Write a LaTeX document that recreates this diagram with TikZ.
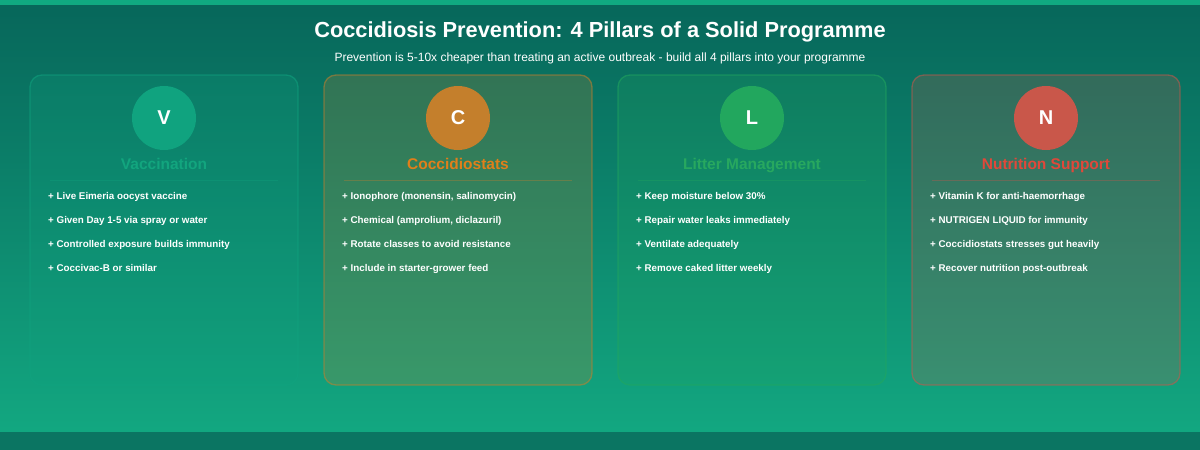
\documentclass[tikz,border=0pt]{standalone}
\usepackage{fontspec}
\setmainfont{Liberation Sans}
\begin{document}
\begin{tikzpicture}[x=1pt,y=-1pt,
  card/.style={rounded corners=12pt,line width=1.3pt},
  badge/.style={circle,minimum size=64pt,inner sep=0pt,text=white,font=\bfseries\fontsize{20}{20}\selectfont},
  ptitle/.style={font=\bfseries\fontsize{15.5}{15.5}\selectfont},
  item/.style={anchor=base west,text=white,font=\bfseries\fontsize{9.8}{9.8}\selectfont,inner sep=0pt}]
\definecolor{bgA}{HTML}{07665A}\definecolor{bgB}{HTML}{13AA82}
\definecolor{strip}{HTML}{10A981}\definecolor{band}{HTML}{0B7562}
\useasboundingbox (0,0) rectangle (1200,450);
\shade[shading=axis,shading angle=-70,top color=bgA,bottom color=bgB] (0,0) rectangle (1200,450);
\fill[strip] (0,0) rectangle (1200,5);
\fill[band] (0,432) rectangle (1200,450);
\node[text=white,font=\bfseries\fontsize{21.8}{21.8}\selectfont] (title) at (600,32) {Coccidiosis Prevention: 4 Pillars of a Solid Programme};
\node[text=white,font=\fontsize{12}{12}\selectfont] (sub) at (600,58) {Prevention is 5-10x cheaper than treating an active outbreak - build all 4 pillars into your programme};
\foreach \px/\bc/\tc/\lt/\nm/\ia/\ib/\ic/\id in {
 30/10A37F/12A57E/V/Vaccination/{Live Eimeria oocyst vaccine}/{Given Day 1-5 via spray or water}/{Controlled exposure builds immunity}/{Coccivac-B or similar},
 324/C47F2C/E07F1A/C/Coccidiostats/{Ionophore (monensin, salinomycin)}/{Chemical (amprolium, diclazuril)}/{Rotate classes to avoid resistance}/{Include in starter-grower feed},
 618/22A75E/27A85F/L/Litter Management/{Keep moisture below 30\%}/{Repair water leaks immediately}/{Ventilate adequately}/{Remove caked litter weekly},
 912/C9574A/E0483A/N/Nutrition Support/{Vitamin K for anti-haemorrhage}/{NUTRIGEN LIQUID for immunity}/{Coccidiostats stresses gut heavily}/{Recover nutrition post-outbreak}}{
 \definecolor{bcc}{HTML}{\bc}\definecolor{tcc}{HTML}{\tc}
 \fill[card,bcc,fill opacity=0.22] (\px,75) rectangle ++(268,310);
 \draw[card,bcc,draw opacity=0.55] (\px,75) rectangle ++(268,310);
 \node[badge,fill=bcc] (b\lt) at (\px+134,118) {\lt};
 \node[ptitle,text=tcc,anchor=base] (t\lt) at (\px+134,169.5) {\nm};
 \draw[bcc,opacity=0.35,line width=0.8pt] (\px+20,180) -- (\px+248,180);
 \node[item] (i1\lt) at (\px+18,199.5) {+ \ia};
 \node[item] (i2\lt) at (\px+18,223.5) {+ \ib};
 \node[item] (i3\lt) at (\px+18,247.5) {+ \ic};
 \node[item] (i4\lt) at (\px+18,271.5) {+ \id};
}
\end{tikzpicture}
\end{document}
